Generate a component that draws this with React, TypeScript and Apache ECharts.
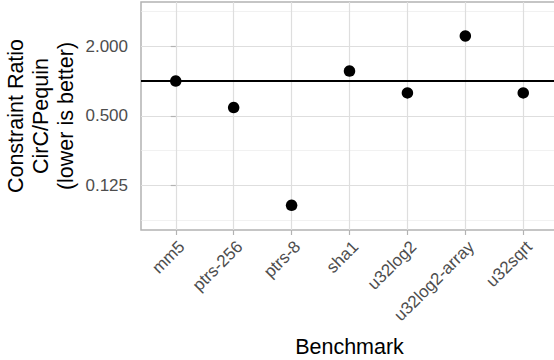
import React, { useEffect, useRef } from "react";
import * as echarts from "echarts";

const categories = ["mm5", "ptrs-256", "ptrs-8", "sha1", "u32log2", "u32log2-array", "u32sqrt"];
const ratios = [1.0, 0.59, 0.084, 1.22, 0.79, 2.46, 0.79];
const referenceLine = 1;
const yMajorTicks = [0.125, 0.5, 2];
const yMinorTicks = [0.0625, 0.25, 1, 4];
const yMin = 0.0513;
const yMax = 4.84;

const FONT = "'Liberation Sans', Arial, Helvetica, sans-serif";

export default function App() {
  const ref = useRef<HTMLDivElement>(null);
  useEffect(() => {
    if (!ref.current) return;
    const chart = echarts.init(ref.current, null, { renderer: "svg" });
    const xIdx = categories.map((_, i) => i);
    chart.setOption({
      animation: false,
      backgroundColor: "#ffffff",
      textStyle: { fontFamily: FONT },
      grid: {
        left: 141,
        top: 2,
        width: 417,
        height: 228,
        show: true,
        borderColor: "#B3B3B3",
        borderWidth: 1.5,
        backgroundColor: "#ffffff",
        containLabel: false,
        outerBoundsMode: "none",
      },
      xAxis: {
        type: "value",
        min: -0.6,
        max: 6.6,
        name: "Benchmark",
        nameLocation: "middle",
        nameGap: 106,
        nameMoveOverlap: false,
        nameTextStyle: { color: "#000000", fontSize: 21.5, fontFamily: FONT },
        axisLine: { show: false },
        axisTick: { show: true, length: 5, lineStyle: { color: "#B3B3B3", width: 1.2 }, customValues: xIdx },
        axisLabel: {
          customValues: xIdx,
          rotate: 45,
          align: "right",
          verticalAlign: "top",
          margin: 8,
          color: "#4D4D4D",
          fontSize: 17,
          fontFamily: FONT,
          formatter: (v: number) => categories[Math.round(v)] ?? "",
        },
        splitLine: { show: true, lineStyle: { color: "#DEDEDE", width: 1.2 } },
      },
      yAxis: [
        {
          type: "log",
          logBase: 2,
          min: yMin,
          max: yMax,
          name: "Constraint Ratio\nCirC/Pequin\n(lower is better)",
          nameLocation: "middle",
          nameGap: 63,
          nameRotate: 90,
          nameMoveOverlap: false,
          nameTextStyle: { color: "#000000", fontSize: 21.5, lineHeight: 25, fontFamily: FONT, align: "center" },
          axisLine: { show: false },
          axisTick: { show: true, length: 5, lineStyle: { color: "#B3B3B3", width: 1.2 }, customValues: yMajorTicks },
          axisLabel: {
            customValues: yMajorTicks,
            margin: 13,
            color: "#4D4D4D",
            fontSize: 17,
            fontFamily: FONT,
            formatter: (v: number) => v.toFixed(3),
          },
          splitLine: { show: true, lineStyle: { color: "#DEDEDE", width: 1.2 } },
        },
        {
          type: "log",
          logBase: 2,
          min: yMin,
          max: yMax,
          axisLine: { show: false },
          axisTick: { show: false, customValues: yMinorTicks },
          axisLabel: { show: false, customValues: yMinorTicks },
          splitLine: { show: true, lineStyle: { color: "#EBEBEB", width: 0.7 } },
        },
      ],
      series: [
        {
          type: "scatter",
          yAxisIndex: 0,
          symbol: "circle",
          symbolSize: 11.5,
          itemStyle: { color: "#000000", opacity: 1 },
          data: ratios.map((v, i) => [i, v]),
          z: 5,
          markLine: {
            silent: true,
            symbol: ["none", "none"],
            label: { show: false },
            lineStyle: { color: "#000000", width: 2.2, type: "solid" },
            data: [{ yAxis: referenceLine }],
            z: 3,
          },
        },
      ],
    });
    return () => chart.dispose();
  }, []);
  return (
    <div
      ref={ref}
      style={{ position: "fixed", left: 0, top: 0, width: 554, height: 360, background: "#fff" }}
    />
  );
}
